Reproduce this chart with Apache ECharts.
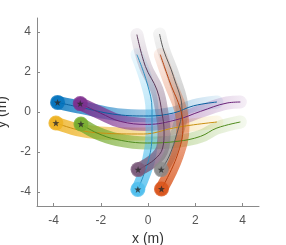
<!DOCTYPE html>
<html><head><meta charset="utf-8">
<script src="https://cdn.jsdelivr.net/npm/echarts@6/dist/echarts.min.js"></script>
<style>html,body{margin:0;padding:0;background:#fff}#c{width:286px;height:245px}</style>
</head><body><div id="c"></div>
<script>
const xTicks = [-4, -2, 0, 2, 4];
const yTicks = [-4, -2, 0, 2, 4];
const bluePath   = [[-3.83,0.48],[-2.73,0.2],[-1.31,-0.13],[0.01,-0.2],[1.08,-0.05],[1.93,0.31],[2.92,0.5]];
const purplePath = [[-2.87,0.42],[-2.02,-0.05],[-1.17,-0.47],[-0.03,-0.62],[1.23,-0.38],[2.22,0.03],[3.35,0.45],[3.91,0.5]];
const yellowPath = [[-3.9,-0.55],[-3.0,-0.88],[-2.02,-1.05],[-0.2,-1.1],[1.08,-0.8],[1.93,-0.64],[2.92,-0.5]];
const greenPath  = [[-2.84,-0.6],[-2.16,-1.05],[-1.31,-1.38],[-0.03,-1.55],[1.23,-1.47],[2.22,-1.22],[2.92,-0.8],[3.91,-0.5]];
const cyanPath   = [[-0.43,-3.87],[0.03,-2.38],[0.17,-1.05],[0.17,0.12],[-0.04,1.45],[-0.47,2.87]];
const mauvePath  = [[-0.42,-2.88],[0.25,-2.4],[0.62,-1.8],[0.68,-1.0],[0.6,-0.1],[0.38,1.1],[-0.11,2.28],[-0.47,3.87]];
const grayPath   = [[0.56,-2.88],[0.9,-2.2],[1.23,-1.05],[1.44,0.1],[1.08,1.78],[0.66,3.1],[0.49,3.9]];
const orangePath = [[0.57,-3.85],[1.23,-2.2],[1.48,-0.72],[1.38,0.12],[0.94,1.45],[0.52,2.87]];

const agents = [
  {p: bluePath,   rgb:[0,114,189],  line:'#0a5f9e', dir:'h'},
  {p: yellowPath, rgb:[237,177,32], line:'#c98f10', dir:'h'},
  {p: purplePath, rgb:[126,47,142], line:'#6a2378', dir:'h'},
  {p: greenPath,  rgb:[119,172,48], line:'#4f8a1c', dir:'h'},
  {p: cyanPath,   rgb:[77,190,238], line:'#2a8fc0', dir:'v'},
  {p: mauvePath,  rgb:[122,90,122], line:'#5a3858', dir:'v'},
  {p: grayPath,   rgb:[140,140,140],line:'#5a5a5a', dir:'v'},
  {p: orangePath, rgb:[217,83,25],  line:'#b8400c', dir:'v'}
];
const rgba = (c,a)=>`rgba(${c[0]},${c[1]},${c[2]},${a})`;
const star = 'path://M0,-10L2.35,-3.24L9.51,-3.09L3.8,1.24L5.88,8.09L0,4L-5.88,8.09L-3.8,1.24L-9.51,-3.09L-2.35,-3.24Z';

const series = [];
agents.forEach(a=>{
  const stops = [{offset:0,color:rgba(a.rgb,0.85)},{offset:0.5,color:rgba(a.rgb,0.42)},{offset:1,color:rgba(a.rgb,0.08)}];
  const grad = a.dir==='h'
    ? {type:'linear',x:0,y:0,x2:1,y2:0,colorStops:stops}
    : {type:'linear',x:0,y:1,x2:0,y2:0,colorStops:stops};
  series.push({type:'line', data:a.p, smooth:0.4, symbol:'none', silent:true,
    lineStyle:{width:13, color:grad, cap:'round', join:'round'}, z:1});
});
agents.forEach(a=>{
  series.push({type:'line', data:a.p, smooth:0.4, symbol:'none', silent:true,
    lineStyle:{width:1, color:a.line}, z:3});
});
agents.forEach(a=>{
  series.push({type:'scatter', data:[a.p[0]], symbol:'circle', symbolSize:15, silent:true,
    itemStyle:{color:rgba(a.rgb,1)}, z:4});
  series.push({type:'scatter', data:[a.p[0]], symbol:star, symbolSize:7, silent:true,
    itemStyle:{color:'#2a2a2a'}, z:5});
});

const axisCommon = {
  type:'value', min:-4.7, max:4.7,
  splitLine:{show:false},
  axisLine:{show:true, onZero:false, lineStyle:{color:'#8a8a8a', width:1}},
  axisTick:{show:true, inside:true, length:3, lineStyle:{color:'#8a8a8a'}},
  axisLabel:{color:'#555', fontFamily:'Liberation Sans, Arial', fontSize:12},
  nameLocation:'middle',
  nameTextStyle:{color:'#333', fontFamily:'Liberation Sans, Arial', fontSize:14}
};
const chart = echarts.init(document.getElementById('c'), null, {renderer:'canvas'});
chart.setOption({
  animation:false,
  grid:{left:37, right:27, top:18, bottom:39, containLabel:false, outerBoundsMode:'none'},
  xAxis: Object.assign({}, axisCommon, {
    name:'x (m)', nameGap:23,
    axisTick:Object.assign({}, axisCommon.axisTick, {customValues:xTicks}),
    axisLabel:Object.assign({}, axisCommon.axisLabel, {customValues:xTicks, margin:9})
  }),
  yAxis: Object.assign({}, axisCommon, {
    name:'y (m)', nameGap:25,
    axisTick:Object.assign({}, axisCommon.axisTick, {customValues:yTicks}),
    axisLabel:Object.assign({}, axisCommon.axisLabel, {customValues:yTicks, margin:6})
  }),
  series
});
</script></body></html>
